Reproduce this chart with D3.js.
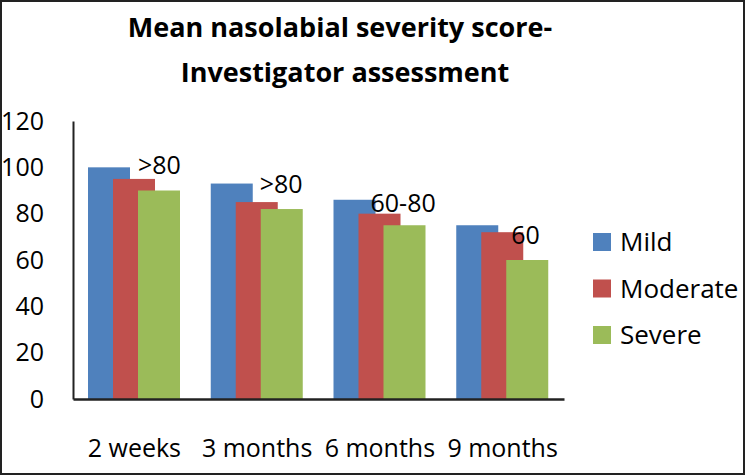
<!DOCTYPE html>
<html><head><meta charset="utf-8">
<script src="https://cdn.jsdelivr.net/npm/d3@7"></script>
<style>
html,body{margin:0;padding:0;background:#fff;}
svg{display:block;font-family:"Open Sans",sans-serif;}
</style></head>
<body>
<svg id="c" width="745" height="475"></svg>
<script>
const categories = ["2 weeks", "3 months", "6 months", "9 months"];
const seriesNames = ["Mild", "Moderate", "Severe"];
const mild = [100, 93, 86, 75];
const moderate = [95, 85, 80, 72];
const severe = [90, 82, 75, 60];
const annotations = [">80", ">80", "60-80", "60"];
const yTicks = [0, 20, 40, 60, 80, 100, 120];
const colors = ["#4F81BD", "#C0504D", "#9BBB59"];
const titleLines = ["Mean nasolabial severity score-", "Investigator assessment"];

// layout-only offsets for the annotation labels
const annDx = [65, 64, 52, 70];
const annDy = [-5, -9, -2, 12];

const values = [mild, moderate, severe];
const svg = d3.select("#c");

// border
svg.append("rect").attr("x",1).attr("y",1).attr("width",743).attr("height",473)
  .attr("fill","#fff").attr("stroke","#222").attr("stroke-width",2);

// title
svg.append("g").selectAll("text").data(titleLines).join("text")
  .attr("x", (d,i)=>i?345:340).attr("y",(d,i)=>37+i*45)
  .attr("text-anchor","middle").attr("font-weight","bold").attr("font-size",27)
  .attr("fill","#000").text(d=>d);

const x = d3.scaleBand().domain(categories).range([73, 564]);
const y = d3.scaleLinear().domain([0,120]).range([399,121]);
const sx = d3.scalePoint().domain(seriesNames).range([15, 65]);
const barW = 42;

// bars
seriesNames.forEach((s,si)=>{
  svg.append("g").selectAll("rect").data(categories).join("rect")
    .attr("x", c=>x(c)+sx(s))
    .attr("y", (c,i)=>y(values[si][i]))
    .attr("width", barW)
    .attr("height", (c,i)=>y(0)-y(values[si][i]))
    .attr("fill", colors[si]);
});

// annotations
svg.append("g").selectAll("text").data(categories).join("text")
  .attr("x",(c,i)=>x(c)+annDx[i])
  .attr("y",(c,i)=>y(moderate[i])+annDy[i])
  .attr("font-size",25).attr("fill","#000")
  .text((c,i)=>annotations[i]);

// y axis
const yAxis = svg.append("g").attr("transform","translate(73,0)")
  .call(d3.axisLeft(y).tickValues(yTicks).tickSize(0).tickPadding(29));
yAxis.select(".domain").attr("stroke","#222").attr("stroke-width",2);
yAxis.selectAll("text").attr("font-size",25).attr("fill","#000").attr("font-family","'Open Sans',sans-serif");

// x axis
const xAxis = svg.append("g").attr("transform","translate(0,399)")
  .call(d3.axisBottom(x).tickSize(0));
xAxis.select(".domain").attr("stroke","#222").attr("stroke-width",2.5);
xAxis.selectAll("text").attr("y",58).attr("dy",null).attr("font-size",25)
  .attr("fill","#000").attr("font-family","'Open Sans',sans-serif");

// legend
const lg = svg.append("g").selectAll("g").data(seriesNames).join("g")
  .attr("transform",(d,i)=>`translate(593,${242+i*46.5})`);
lg.append("rect").attr("x",0).attr("y",-9).attr("width",18).attr("height",18)
  .attr("fill",(d,i)=>colors[i]);
lg.append("text").attr("x",27).attr("y",0).attr("dy","0.35em")
  .attr("font-size",26).attr("fill","#000").text(d=>d);
</script>
</body></html>
